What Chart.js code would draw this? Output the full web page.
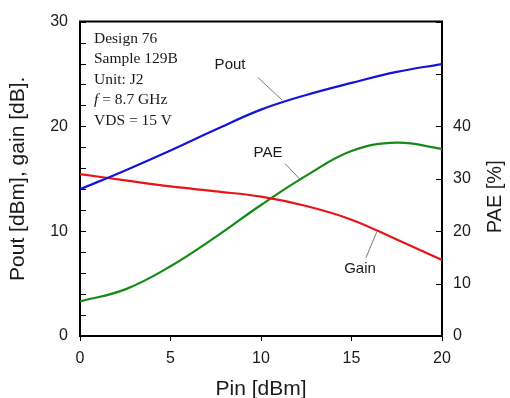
<!DOCTYPE html>
<html>
<head>
<meta charset="utf-8">
<script src="https://cdn.jsdelivr.net/npm/chart.js@4.4.1/dist/chart.umd.min.js"></script>
<style>
  html, body { margin: 0; padding: 0; background: #fff; }
  #wrap { width: 510px; height: 398px; position: relative; }
</style>
</head>
<body>
<div id="wrap"><canvas id="grafico"></canvas></div>
<script>
// Pin [dBm] sweep
const pin = [0, 2.5, 5, 7.5, 10, 12.5, 15, 17.5, 20];
// Pout [dBm]
const pout = [14.0, 15.8, 17.7, 19.7, 21.6, 23.0, 24.15, 25.2, 25.95];
// Gain [dB]
const gain = [15.45, 14.85, 14.27, 13.8, 13.3, 12.4, 11.1, 9.2, 7.26];
// PAE [%]
const pae = [6.6, 8.9, 13.3, 18.9, 25.0, 30.6, 35.3, 36.9, 35.7];

const xTicks = [0, 5, 10, 15, 20];
const leftLabels = [0, 10, 20, 30];
const rightLabels = [0, 10, 20, 30, 40];

const infoLines = ['Design 76', 'Sample 129B', 'Unit: J2', 'f = 8.7 GHz', 'VDS = 15 V'];

// curve labels with leader lines (x in dBm, y on left axis)
const etiquetas = [
  { text: 'Pout', at: [8.29, 25.9], from: [9.83, 24.67], to: [11.16, 22.52] },
  { text: 'PAE',  at: [10.39, 17.48], from: [11.33, 16.45], to: [12.15, 14.95] },
  { text: 'Gain', at: [15.47, 6.36], from: [16.39, 9.91], to: [15.8, 7.48] }
];

const pares = (ys) => pin.map((x, i) => ({ x: x, y: ys[i] }));

// desenha moldura, ticks internos, textos e titulo direito
const extras = {
  id: 'extras',
  afterDraw(chart) {
    const { ctx, chartArea: a, scales } = chart;
    const sx = scales.x, sy = scales.y, sy1 = scales.y1;
    ctx.save();
    ctx.strokeStyle = '#000';
    ctx.lineWidth = 2;
    ctx.beginPath();
    ctx.moveTo(a.left - 1, a.top);
    ctx.lineTo(a.right + 1, a.top);
    ctx.stroke();

    // ticks para dentro
    ctx.lineWidth = 1;
    ctx.beginPath();
    sy.ticks.forEach(t => {
      const py = Math.round(sy.getPixelForValue(t.value)) + 0.5;
      ctx.moveTo(a.left, py); ctx.lineTo(a.left + 6, py);
    });
    sy1.ticks.forEach(t => {
      const py = Math.round(sy1.getPixelForValue(t.value)) + 0.5;
      ctx.moveTo(a.right - 6, py); ctx.lineTo(a.right, py);
    });
    ctx.stroke();

    // bloco de informacoes
    ctx.fillStyle = '#1a1a1a';
    ctx.textBaseline = 'alphabetic';
    ctx.textAlign = 'left';
    const serif = "15.5px 'Liberation Serif', 'Times New Roman', serif";
    infoLines.forEach((linha, i) => {
      const bx = a.left + 14, by = a.top + 21 + i * 20.6;
      if (linha.startsWith('f ')) {
        ctx.font = "italic " + serif;
        ctx.fillText('f', bx, by);
        const w = ctx.measureText('f').width;
        ctx.font = serif;
        ctx.fillText(linha.slice(1), bx + w, by);
      } else {
        ctx.font = serif;
        ctx.fillText(linha, bx, by);
      }
    });

    // etiquetas das curvas
    ctx.font = "15px 'Liberation Sans', Arial, sans-serif";
    ctx.textAlign = 'center';
    ctx.textBaseline = 'middle';
    ctx.strokeStyle = '#777';
    ctx.lineWidth = 1;
    etiquetas.forEach(e => {
      ctx.fillText(e.text, sx.getPixelForValue(e.at[0]), sy.getPixelForValue(e.at[1]));
      ctx.beginPath();
      ctx.moveTo(sx.getPixelForValue(e.from[0]), sy.getPixelForValue(e.from[1]));
      ctx.lineTo(sx.getPixelForValue(e.to[0]), sy.getPixelForValue(e.to[1]));
      ctx.stroke();
    });

    // titulo do eixo direito (lido de baixo para cima)
    ctx.save();
    ctx.translate(a.right + 53, (a.top + a.bottom) / 2 + 18);
    ctx.rotate(-Math.PI / 2);
    ctx.font = "20px 'Liberation Sans', Arial, sans-serif";
    ctx.fillStyle = '#1a1a1a';
    ctx.fillText('PAE [%]', 0, 0);
    ctx.restore();
    ctx.restore();
  }
};

const fonteTick = { family: "'Liberation Sans', Arial, sans-serif", size: 16 };

new Chart(document.getElementById('grafico'), {
  type: 'line',
  data: {
    datasets: [
      { label: 'Pout', data: pares(pout), borderColor: '#1414d8', yAxisID: 'y' },
      { label: 'Gain', data: pares(gain), borderColor: '#e81418', yAxisID: 'y' },
      { label: 'PAE', data: pares(pae), borderColor: '#168a16', yAxisID: 'y1' }
    ]
  },
  options: {
    responsive: true,
    maintainAspectRatio: false,
    animation: false,
    layout: { padding: { top: 15, left: 0, right: 0, bottom: 0 } },
    elements: {
      line: { borderWidth: 2.2, tension: 0.4, fill: false },
      point: { radius: 0 }
    },
    plugins: { legend: { display: false }, tooltip: { enabled: false } },
    scales: {
      x: {
        type: 'linear', min: 0, max: 20,
        afterBuildTicks: s => { s.ticks = xTicks.map(v => ({ value: v })); },
        afterFit: s => { s.height = 62; },
        ticks: { font: fonteTick, color: '#1a1a1a', padding: 8, maxRotation: 0 },
        grid: { drawOnChartArea: false, drawTicks: true, tickLength: 5, color: '#000' },
        border: { color: '#000', width: 2 },
        title: {
          display: true, text: 'Pin [dBm]', color: '#1a1a1a',
          font: { family: "'Liberation Sans', Arial, sans-serif", size: 21, lineHeight: 0.85 },
          padding: { top: 0, bottom: 0 }
        }
      },
      y: {
        position: 'left', min: 0, max: 30,
        ticks: {
          stepSize: 2, autoSkip: false, font: fonteTick, color: '#1a1a1a', padding: 12,
          callback: v => leftLabels.includes(v) ? String(v) : ''
        },
        afterFit: s => { s.width = 80; },
        grid: { drawOnChartArea: false, drawTicks: false },
        border: { color: '#000', width: 2 },
        title: {
          display: true, text: 'Pout [dBm], gain [dB].', color: '#1a1a1a',
          font: { family: "'Liberation Sans', Arial, sans-serif", size: 21 },
          padding: { top: 6, bottom: 0 }
        }
      },
      y1: {
        position: 'right', min: 0, max: 60,
        ticks: {
          stepSize: 10, autoSkip: false, font: fonteTick, color: '#1a1a1a', padding: 11,
          callback: v => rightLabels.includes(v) ? String(v) : ''
        },
        afterFit: s => { s.width = 68; },
        grid: { drawOnChartArea: false, drawTicks: false },
        border: { color: '#000', width: 2 }
      }
    }
  },
  plugins: [extras]
});
</script>
</body>
</html>
